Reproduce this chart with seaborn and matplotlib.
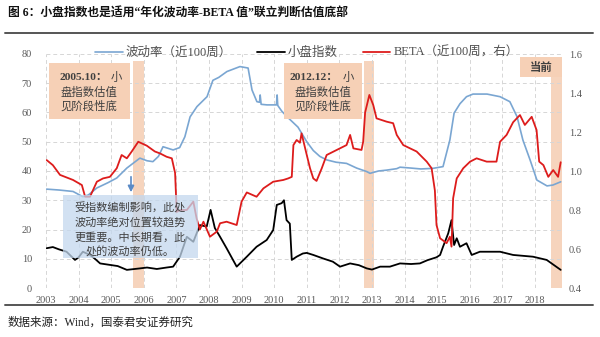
import matplotlib
matplotlib.use('Agg')
import matplotlib.pyplot as plt
import seaborn as sns
import pandas as pd
from matplotlib.patches import Rectangle, FancyArrowPatch
from matplotlib.lines import Line2D

# ---------------- data ----------------
vol_t = [2003.02, 2003.40, 2003.83, 2004.13, 2004.30, 2004.56, 2004.90, 2005.17, 2005.48,
         2005.88, 2006.10, 2006.28, 2006.45, 2006.59, 2006.90, 2007.10, 2007.26, 2007.42,
         2007.63, 2007.94, 2008.12, 2008.30, 2008.55, 2008.95, 2009.20, 2009.32, 2009.47,
         2009.55, 2009.57, 2009.60, 2009.78, 2010.07, 2010.09, 2010.11, 2010.23, 2010.39,
         2010.73, 2011.00, 2011.20, 2011.40, 2011.61, 2011.90, 2012.22, 2012.53, 2012.84,
         2012.94, 2013.20, 2013.45, 2013.76, 2013.86, 2014.20, 2014.50, 2014.87, 2015.18,
         2015.39, 2015.52, 2015.70, 2015.90, 2016.10, 2016.53, 2016.93, 2017.23, 2017.45,
         2017.63, 2017.85, 2018.06, 2018.37, 2018.55, 2018.79]
vol_v = [33.8, 33.5, 33.0, 31.2, 31.8, 34.2, 36.0, 37.6, 41.0,
         44.4, 43.5, 43.2, 45.0, 48.3, 47.2, 48.0, 51.7, 58.5,
         62.0, 65.4, 71.0, 72.0, 74.0, 75.7, 75.2, 67.7, 63.7,
         63.5, 66.0, 62.8, 62.6, 62.6, 66.0, 62.4, 60.5, 58.6,
         55.0, 50.0, 47.0, 45.0, 43.8, 43.0, 42.6, 41.0, 39.8,
         39.2, 40.0, 40.3, 40.8, 41.3, 41.0, 40.7, 40.9, 41.5,
         50.6, 59.8, 63.0, 65.4, 66.3, 66.3, 65.4, 63.7, 58.6,
         50.6, 43.8, 36.9, 34.9, 35.2, 36.3]

idx_t = [2003.02, 2003.21, 2003.40, 2003.63, 2003.89, 2004.00, 2004.13, 2004.35, 2004.50,
         2004.66, 2004.96, 2005.20, 2005.48, 2005.88, 2006.10, 2006.40, 2006.70, 2006.90,
         2007.11, 2007.32, 2007.52, 2007.72, 2007.93, 2008.05, 2008.18, 2008.34, 2008.54,
         2008.85, 2009.16, 2009.46, 2009.77, 2009.97, 2010.08, 2010.23, 2010.30, 2010.38,
         2010.48, 2010.54, 2010.69, 2010.88, 2011.00, 2011.20, 2011.40, 2011.50, 2011.80,
         2012.02, 2012.33, 2012.60, 2012.84, 2013.00, 2013.25, 2013.55, 2013.86, 2014.20,
         2014.47, 2014.70, 2014.98, 2015.09, 2015.18, 2015.34, 2015.44, 2015.52, 2015.60,
         2015.70, 2015.90, 2016.06, 2016.31, 2016.93, 2017.33, 2017.94, 2018.36, 2018.79]
idx_v = [13.6, 14.0, 13.2, 12.4, 9.6, 10.5, 12.4, 11.3, 10.0,
         8.4, 7.9, 7.5, 6.2, 6.7, 7.0, 6.5, 7.0, 7.3,
         10.7, 17.5, 15.8, 21.5, 21.0, 26.7, 20.5, 17.5, 13.6,
         7.3, 10.7, 14.1, 16.4, 19.8, 28.4, 29.0, 30.0, 23.2,
         22.0, 9.6, 10.7, 11.8, 12.0, 11.3, 10.5, 10.1, 9.0,
         7.3, 8.4, 7.8, 6.7, 6.3, 7.3, 7.3, 8.4, 8.2,
         8.4, 9.5, 10.5, 11.3, 14.1, 18.7, 23.2, 14.7, 17.0,
         14.1, 15.3, 11.3, 12.4, 12.4, 11.3, 10.7, 9.6, 6.2]

beta_t = [2003.02, 2003.21, 2003.43, 2003.83, 2004.10, 2004.20, 2004.35, 2004.56, 2004.75,
          2004.96, 2005.17, 2005.32, 2005.48, 2005.63, 2005.83, 2006.09, 2006.34, 2006.50,
          2006.70, 2006.86, 2006.96, 2007.01, 2007.11, 2007.32, 2007.52, 2007.62, 2007.72,
          2007.83, 2008.03, 2008.24, 2008.34, 2008.54, 2008.85, 2009.00, 2009.16, 2009.46,
          2009.67, 2009.97, 2010.28, 2010.43, 2010.54, 2010.59, 2010.69, 2010.79, 2010.84,
          2011.00, 2011.10, 2011.20, 2011.30, 2011.46, 2011.61, 2011.92, 2012.22, 2012.33,
          2012.43, 2012.68, 2012.73, 2012.79, 2012.92, 2013.04, 2013.14, 2013.45, 2013.65,
          2013.76, 2013.96, 2014.17, 2014.37, 2014.68, 2014.83, 2014.93, 2014.98, 2015.09,
          2015.29, 2015.39, 2015.44, 2015.49, 2015.60, 2015.80, 2016.01, 2016.21, 2016.52,
          2016.82, 2016.93, 2017.13, 2017.33, 2017.54, 2017.69, 2017.90, 2018.05, 2018.13,
          2018.26, 2018.41, 2018.56, 2018.71, 2018.79]
beta_v = [1.056, 1.030, 0.980, 0.954, 0.928, 0.868, 0.868, 0.945, 0.962,
          0.970, 1.014, 1.082, 1.065, 1.100, 1.150, 1.130, 1.100, 1.090,
          1.073, 1.065, 0.990, 0.790, 0.800, 0.800, 0.843, 0.757, 0.700,
          0.740, 0.663, 0.689, 0.732, 0.740, 0.723, 0.843, 0.890, 0.868,
          0.911, 0.945, 0.954, 0.962, 0.970, 1.133, 1.159, 1.145, 1.193,
          1.082, 1.014, 0.962, 0.949, 1.014, 1.082, 1.108, 1.133, 1.185,
          1.116, 1.108, 1.150, 1.300, 1.390, 1.338, 1.270, 1.253, 1.245,
          1.185, 1.133, 1.116, 1.100, 1.048, 1.014, 0.900, 0.723, 0.655,
          0.630, 0.663, 0.612, 0.860, 0.962, 1.014, 1.048, 1.065, 1.048,
          1.048, 1.150, 1.185, 1.250, 1.287, 1.236, 1.278, 1.210, 1.048,
          1.030, 0.970, 1.005, 0.970, 1.045]

years = list(range(2003, 2019))
left_ticks = [0, 10, 20, 30, 40, 50, 60, 70, 80]
right_ticks = [0.4, 0.6, 0.8, 1.0, 1.2, 1.4, 1.6]
bands = [(2005.67, 2006.00), (2012.75, 2013.05), (2018.48, 2018.83)]

labels = ['波动率（近100周）', '小盘指数', 'BETA（近100周，右）']
title = '图 6：小盘指数也是适用“年化波动率-BETA 值”联立判断估值底部'
source = '数据来源：Wind，国泰君安证券研究'

# ---------------- style ----------------
sns.set_style('white')
plt.rcParams['font.family'] = ['Liberation Serif', 'Noto Sans CJK SC', 'DejaVu Sans']

C_VOL = '#7aa6d2'
C_IDX = '#000000'
C_BETA = '#dd1c1c'
C_BAND = '#f6d0b6'
TXT = '#404040'

W, H = 600, 337
def fx(x): return x / W
def fy(y): return 1 - y / H

fig = plt.figure(figsize=(6, 3.37), dpi=100)
ax = fig.add_axes([fx(46), fy(288), (562 - 46) / W, (288 - 54) / H])
ax2 = ax.twinx()

for a0, a1 in bands:
    ax.axvspan(a0, a1, ymin=0, ymax=0.97, color=C_BAND, alpha=0.9, lw=0, zorder=0)

vol_df = pd.DataFrame({'t': vol_t, 'v': vol_v})
idx_df = pd.DataFrame({'t': idx_t, 'v': idx_v})
beta_df = pd.DataFrame({'t': beta_t, 'v': beta_v})

sns.lineplot(data=vol_df, x='t', y='v', ax=ax, color=C_VOL, lw=1.2,
             estimator=None, sort=False, legend=False, zorder=3)
sns.lineplot(data=idx_df, x='t', y='v', ax=ax, color=C_IDX, lw=1.3,
             estimator=None, sort=False, legend=False, zorder=3)
sns.lineplot(data=beta_df, x='t', y='v', ax=ax2, color=C_BETA, lw=1.3,
             estimator=None, sort=False, legend=False, zorder=3)

ax.set_xlim(2003.0, 2018.83)
ax.set_ylim(0, 80)
ax2.set_ylim(0.4, 1.6)
ax.set_xticks(years)
ax.set_xticklabels([str(y) for y in years])
ax.set_yticks(left_ticks)
ax2.set_yticks(right_ticks)
ax2.set_yticklabels([f'{v:.1f}' for v in right_ticks])
for a in (ax, ax2):
    a.set_xlabel('')
    a.set_ylabel('')
    for s in a.spines.values():
        s.set_visible(False)
ax.tick_params(axis='x', length=0, pad=6, labelsize=7.5, labelcolor='#595959')
ax.tick_params(axis='y', length=0, pad=10, labelsize=7.5, labelcolor='#595959')
ax2.tick_params(axis='y', length=0, pad=5, labelsize=7.5, labelcolor='#595959')
ax.grid(True, axis='both', color='#d6d6d6', ls=(0, (4, 3)), lw=0.7)
ax.set_axisbelow(True)
ax.set_zorder(1)
ax2.set_zorder(2)

# legend
handles = [Line2D([], [], color=C_VOL, lw=1.2),
           Line2D([], [], color=C_IDX, lw=1.3),
           Line2D([], [], color=C_BETA, lw=1.3)]
fig.legend(handles, labels, loc='center', bbox_to_anchor=(fx(307), fy(53)), ncol=3,
           frameon=False, fontsize=9, handlelength=2.2, handletextpad=0.25,
           columnspacing=2.0, labelcolor='#505050')

# title & rules
fig.text(fx(8), fy(14), title, fontsize=8.5, fontweight='bold', ha='left', va='center',
         color='#111111')
fig.add_artist(Line2D([fx(5), fx(593)], [fy(33), fy(33)], color='#555555', lw=1.4,
                      transform=fig.transFigure))
fig.add_artist(Line2D([fx(5), fx(593)], [fy(305), fy(305)], color='#555555', lw=1.4,
                      transform=fig.transFigure))
fig.text(fx(8), fy(323), source, fontsize=8.3, ha='left', va='center', color='#222222')

# annotation boxes
def box(x0, y0, x1, y1, color, alpha=1.0):
    fig.add_artist(Rectangle((fx(x0), fy(y1)), fx(x1) - fx(x0), fy(y0) - fy(y1),
                             transform=fig.transFigure, facecolor=color, edgecolor='none',
                             alpha=alpha, zorder=4))

def t(x, y, s, ha='center', bold=False, size=8.2, color=TXT):
    fig.text(fx(x), fy(y), s, ha=ha, va='center', fontsize=size,
             fontweight='bold' if bold else 'normal', color=color, zorder=6)

box(49, 63, 130, 119, C_BAND)
t(59, 77, '2005.10：', ha='left', bold=True)
t(116, 77, '小')
t(89, 92, '盘指数估值')
t(89, 106, '见阶段性底')

box(284, 63, 362, 119, C_BAND)
t(290, 77, '2012.12：', ha='left', bold=True)
t(348, 77, '小')
t(323, 92, '盘指数估值')
t(323, 106, '见阶段性底')

box(520, 57, 562, 77, C_BAND)
t(541, 67, '当前', bold=True)

box(63, 195, 198, 258, '#c3d8ee', alpha=0.75)
t(130, 208, '受指数编制影响，此处', size=8)
t(130, 222, '波动率绝对位置较趋势', size=8)
t(130, 237, '更重要。中长期看，此', size=8)
t(130, 251, '处的波动率仍低。', size=8)

fig.add_artist(FancyArrowPatch((fx(131), fy(174)), (fx(131), fy(195)),
                               transform=fig.transFigure, arrowstyle='-|>',
                               mutation_scale=9, color='#5a8ac6', lw=1.2, zorder=5))

fig.savefig('out.png', dpi=100)
